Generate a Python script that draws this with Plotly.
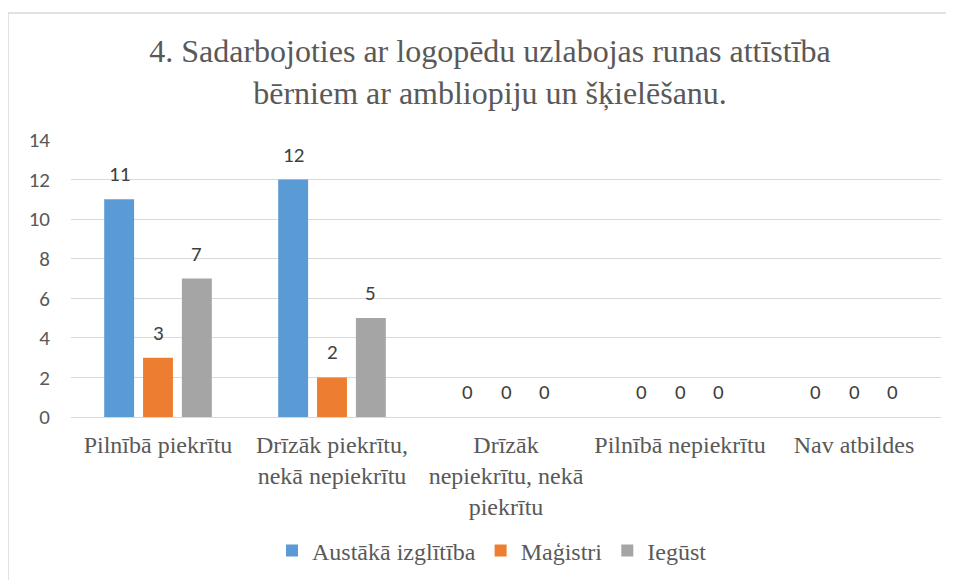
import plotly.graph_objects as go

categories = ["Pilnībā piekrītu", "Drīzāk piekrītu,<br>nekā nepiekrītu",
              "Drīzāk<br>nepiekrītu, nekā<br>piekrītu", "Pilnībā nepiekrītu", "Nav atbildes"]
series_names = ["Austākā izglītība", "Maģistri", "Iegūst"]
austaka = [11, 12, 0, 0, 0]
magistri = [3, 2, 0, 0, 0]
iegust = [7, 5, 0, 0, 0]
colors = ["#5B9BD5", "#ED7D31", "#A5A5A5"]
y_ticks = [0, 2, 4, 6, 8, 10, 12, 14]

title_text = "4. Sadarbojoties ar logopēdu uzlabojas runas attīstība<br>bērniem ar ambliopiju un šķielēšanu."

SERIF = "Liberation Serif"
SANS = "Carlito"

OX, OY = 8, 8  # page offset of the figure
W, H = 954, 580
L = 71 - OX
R = W - (941 - OX)
T = 140 - OY
B = H - (417 - OY)
plot_w = W - L - R
plot_h = H - T - B

fig = go.Figure()
all_series = [austaka, magistri, iegust]
for name, vals, col in zip(series_names, all_series, colors):
    fig.add_trace(go.Bar(x=categories, y=vals, name=name, marker_color=col,
                         marker_line_width=0))

cat_w = plot_w / len(categories)
bargap = 0.33
bargroupgap = 0.23
slot = cat_w * (1 - bargap) / 3
annotations = []
for i, vals in enumerate(all_series):
    for c, v in zip(categories, vals):
        annotations.append(dict(x=c, y=v, xref="x", yref="y", text=str(v),
                                showarrow=False, yanchor="middle",
                                xshift=(i - 1) * slot, yshift=25,
                                font=dict(family=SANS, size=21, color="#404040")))


def px_x(p):
    return (p - OX - L) / plot_w


def px_y(p):
    return (H - B - (p - OY)) / plot_h


fig.update_layout(
    width=W, height=H,
    margin=dict(l=L, r=R, t=T, b=B),
    paper_bgcolor="white", plot_bgcolor="white",
    font=dict(family=SERIF, color="#595959"),
    barmode="group", bargap=bargap, bargroupgap=bargroupgap,
    title=dict(text=title_text, x=px_x(490), xref="paper", xanchor="center",
               y=1 - (62 - OY) / H, yanchor="middle",
               font=dict(family=SERIF, size=32, color="#595959")),
    legend=dict(orientation="h", x=px_x(492), xanchor="center", y=px_y(551),
                yanchor="middle", font=dict(family=SERIF, size=24, color="#595959"),
                itemwidth=30, traceorder="normal"),
    annotations=annotations,
    shapes=[dict(type="rect", xref="paper", yref="paper",
                 x0=px_x(8), x1=px_x(W + 30),
                 y0=px_y(H + 30), y1=px_y(13),
                 line=dict(color="#D9D9D9", width=1.5), fillcolor="rgba(0,0,0,0)",
                 layer="below")],
)
fig.update_xaxes(showgrid=False, showline=True, linecolor="#D9D9D9", linewidth=1,
                 ticks="", tickfont=dict(family=SERIF, size=24, color="#595959"),
                 ticklabelstandoff=6)
fig.update_yaxes(range=[0, 14], tickvals=y_ticks, showgrid=True, gridcolor="#D9D9D9",
                 gridwidth=1, zeroline=False, showline=False, ticks="",
                 tickfont=dict(family=SANS, size=21, color="#595959"),
                 ticklabelstandoff=20)

fig.write_html("out.html")
